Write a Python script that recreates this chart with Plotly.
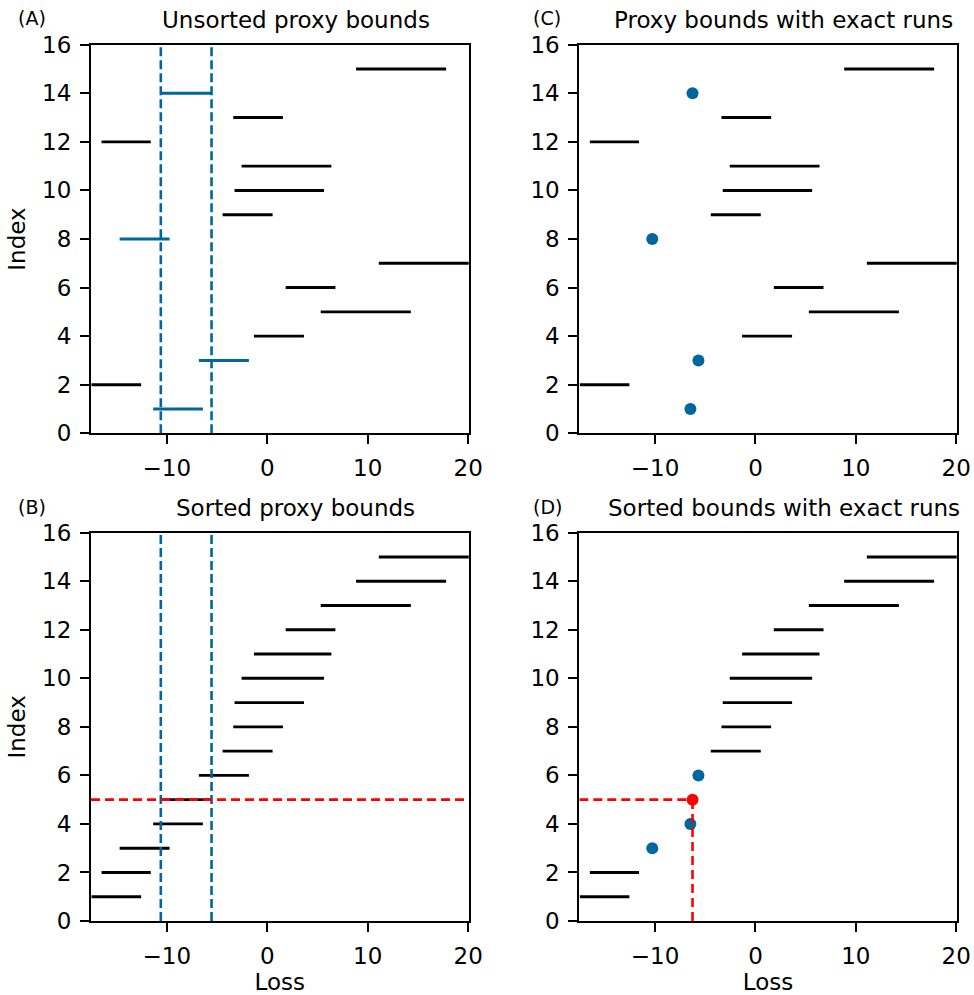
import plotly.graph_objects as go

# ---------------- data ----------------
index = list(range(1, 16))
lower = [-11.36, -17.5, -6.81, -1.33, 5.32, 1.83, 11.1, -14.7, -4.45, -3.26, -2.56, -16.5, -3.39, -10.6, 8.84]
upper = [-6.41, -12.56, -1.83, 3.65, 14.29, 6.78, 20.1, -9.73, 0.53, 5.65, 6.38, -11.6, 1.56, -5.55, 17.8]
exact_index = [1, 3, 8, 14]
exact_value = [-6.48, -5.68, -10.28, -6.27]
k_rank = 5

titles = ["Unsorted proxy bounds", "Sorted proxy bounds",
          "Proxy bounds with exact runs", "Sorted bounds with exact runs"]
panel_labels = ["(A)", "(B)", "(C)", "(D)"]
x_ticks = [-10, 0, 10, 20]
x_ticktext = ["\u221210", "0", "10", "20"]
y_ticks = [0, 2, 4, 6, 8, 10, 12, 14, 16]
x_range = [-17.55, 20.05]
y_range = [0, 16]

BLUE = "#00669E"
RED = "#FF0000"
FONT = "DejaVu Sans"
FS = 23
W, H = 974, 995


def segs(xlo, xhi, ys):
    xs, yy = [], []
    for a, b, y in zip(xlo, xhi, ys):
        xs += [a, b, None]
        yy += [y, y, None]
    return xs, yy


fig = go.Figure()

xdom_left = [91 / W, 468.7 / W]
xdom_right = [579.3 / W, 956.7 / W]
ydom_top = [1 - 433.3 / H, 1 - 44.7 / H]
ydom_bot = [1 - 921 / H, 1 - 532.7 / H]
panels = {
    1: (xdom_left, ydom_top),   # A
    2: (xdom_left, ydom_bot),   # B
    3: (xdom_right, ydom_top),  # C
    4: (xdom_right, ydom_bot),  # D
}

exact_set = set(exact_index)
LW = 2.9
MS = 12

# ---- Panel A ----
blk = [i for i in index if i not in exact_set]
xs, ys = segs([lower[i - 1] for i in blk], [upper[i - 1] for i in blk], blk)
fig.add_trace(go.Scatter(x=xs, y=ys, mode="lines", line=dict(color="black", width=LW),
                         xaxis="x", yaxis="y", hoverinfo="skip"))
xs, ys = segs([lower[i - 1] for i in exact_index], [upper[i - 1] for i in exact_index], exact_index)
fig.add_trace(go.Scatter(x=xs, y=ys, mode="lines", line=dict(color=BLUE, width=LW),
                         xaxis="x", yaxis="y", hoverinfo="skip"))

# ---- Panel B ----
slo = sorted(lower)
shi = sorted(upper)
xs, ys = segs(slo, shi, index)
fig.add_trace(go.Scatter(x=xs, y=ys, mode="lines", line=dict(color="black", width=LW),
                         xaxis="x2", yaxis="y2", hoverinfo="skip"))

# ---- Panel C ----
xs, ys = segs([lower[i - 1] for i in blk], [upper[i - 1] for i in blk], blk)
fig.add_trace(go.Scatter(x=xs, y=ys, mode="lines", line=dict(color="black", width=LW),
                         xaxis="x3", yaxis="y3", hoverinfo="skip"))
fig.add_trace(go.Scatter(x=exact_value, y=exact_index, mode="markers",
                         marker=dict(color=BLUE, size=MS, line=dict(width=0)),
                         xaxis="x3", yaxis="y3", hoverinfo="skip"))

# ---- Panel D ----
rem_lo = sorted(lower[i - 1] for i in blk)
rem_hi = sorted(upper[i - 1] for i in blk)
ex_sorted = sorted(exact_value)
n_below = sum(1 for v in rem_hi if v < min(ex_sorted))
d_point_rows = list(range(n_below + 1, n_below + 1 + len(ex_sorted)))
d_int_rows = [r for r in index if r not in d_point_rows]
xs, ys = segs(rem_lo, rem_hi, d_int_rows)
fig.add_trace(go.Scatter(x=xs, y=ys, mode="lines", line=dict(color="black", width=LW),
                         xaxis="x4", yaxis="y4", hoverinfo="skip"))
kth_val = ex_sorted[d_point_rows.index(k_rank)]
fig.add_trace(go.Scatter(x=[v for r, v in zip(d_point_rows, ex_sorted) if r != k_rank],
                         y=[r for r in d_point_rows if r != k_rank], mode="markers",
                         marker=dict(color=BLUE, size=MS, line=dict(width=0)),
                         xaxis="x4", yaxis="y4", hoverinfo="skip"))

shapes = []
for ax in ["x", "x2"]:
    yref = "y domain" if ax == "x" else "y2 domain"
    for v in [slo[k_rank - 1], shi[k_rank - 1]]:
        shapes.append(dict(type="line", xref=ax, yref=yref, x0=v, x1=v, y0=0, y1=1,
                           line=dict(color=BLUE, width=2.6, dash="9px,4px"), layer="above"))
shapes.append(dict(type="line", xref="x2 domain", yref="y2", x0=0, x1=1, y0=k_rank, y1=k_rank,
                   line=dict(color=RED, width=2.6, dash="9px,5px"), layer="above"))
shapes.append(dict(type="line", xref="x4", yref="y4", x0=x_range[0], x1=kth_val, y0=k_rank, y1=k_rank,
                   line=dict(color=RED, width=2.6, dash="9px,5px"), layer="above"))
shapes.append(dict(type="line", xref="x4", yref="y4", x0=kth_val, x1=kth_val, y0=0, y1=k_rank,
                   line=dict(color=RED, width=2.6, dash="9px,5px"), layer="above"))

fig.add_trace(go.Scatter(x=[kth_val], y=[k_rank], mode="markers",
                         marker=dict(color=RED, size=MS, line=dict(width=0)),
                         xaxis="x4", yaxis="y4", hoverinfo="skip", cliponaxis=False))

axis_common = dict(showline=True, mirror=True, linecolor="black", linewidth=2,
                   ticks="outside", ticklen=9, tickwidth=2, tickcolor="black",
                   showgrid=False, zeroline=False, automargin=False,
                   tickfont=dict(family=FONT, size=FS, color="black"))

layout = dict(width=W, height=H, margin=dict(l=0, r=0, t=0, b=0, autoexpand=False),
              paper_bgcolor="white", plot_bgcolor="white", showlegend=False,
              font=dict(family=FONT, color="black"))

for n, (xd, yd) in panels.items():
    xn = "xaxis" if n == 1 else f"xaxis{n}"
    yn = "yaxis" if n == 1 else f"yaxis{n}"
    xa = dict(axis_common, domain=xd, range=x_range, tickmode="array",
              tickvals=x_ticks, ticktext=x_ticktext, anchor="y" if n == 1 else f"y{n}",
              ticklabelstandoff=4)
    ya = dict(axis_common, domain=yd, range=y_range, tickmode="array", tickvals=y_ticks,
              anchor="x" if n == 1 else f"x{n}", ticklabelstandoff=4)
    if n in (2, 4):
        xa["title"] = dict(text="Loss", font=dict(family=FONT, size=FS, color="black"), standoff=10)
    if n in (1, 2):
        ya["title"] = dict(text="Index", font=dict(family=FONT, size=FS, color="black"), standoff=10)
    layout[xn] = xa
    layout[yn] = ya

annotations = []
title_pos = [(296, 20), (295.5, 508), (783.5, 20), (783.5, 508)]
label_pos = [(32, 18), (32, 507), (547, 18), (547, 507)]
for (tx, ty), t in zip(title_pos, titles):
    annotations.append(dict(text=t, x=tx / W, y=1 - ty / H, xref="paper", yref="paper",
                            showarrow=False, xanchor="center", yanchor="middle",
                            font=dict(family=FONT, size=FS, color="black")))
for (lx, ly), t in zip(label_pos, panel_labels):
    annotations.append(dict(text=t, x=lx / W, y=1 - ly / H, xref="paper", yref="paper",
                            showarrow=False, xanchor="center", yanchor="middle",
                            font=dict(family=FONT, size=19, color="black")))
layout["annotations"] = annotations
layout["shapes"] = shapes

fig.update_layout(**layout)
fig.write_html("out.html", config={"displayModeBar": False},
               post_script="document.body.style.margin='0px';document.body.style.overflow='hidden';")
